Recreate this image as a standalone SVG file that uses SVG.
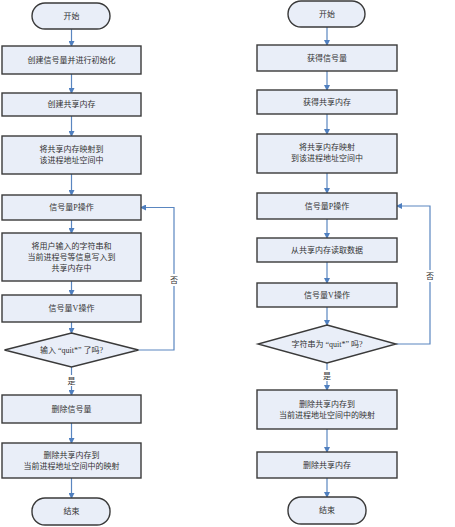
<svg xmlns="http://www.w3.org/2000/svg" width="455" height="527" viewBox="0 0 455 527">
<defs>
<marker id="ah" markerWidth="6" markerHeight="6" refX="5" refY="3" orient="auto" markerUnits="userSpaceOnUse">
<path d="M0,0 L6,3 L0,6 Z" fill="#4f7fbf"/>
</marker>
<style>
.n{fill:#e9eef8;stroke:#3a3a3a;stroke-width:1.4}
.t{font-family:"Liberation Serif","Noto Sans CJK SC",serif;font-size:8px;fill:#333;text-anchor:middle;dominant-baseline:central}
.c{fill:none;stroke:#5a86c0;stroke-width:1.2}
.a{marker-end:url(#ah)}
.lb{fill:#fff}
</style>
</defs>
<rect width="455" height="527" fill="#fff"/>
<g id="connectors">
<path class="c a" d="M71.5,29 V46"/>
<path class="c a" d="M71.5,74 V93"/>
<path class="c a" d="M71.5,116 V136"/>
<path class="c a" d="M71.5,174 V195"/>
<path class="c a" d="M71.5,220 V233"/>
<path class="c a" d="M71.5,281 V295"/>
<path class="c a" d="M71.5,322 V333"/>
<path class="c a" d="M71.5,367 V395"/>
<path class="c a" d="M71.5,423 V443"/>
<path class="c a" d="M71.5,478 V498"/>
<path class="c a" d="M138.5,350 H174 V207.5 H141"/>
<path class="c a" d="M327,27 V45"/>
<path class="c a" d="M327,71 V90"/>
<path class="c a" d="M327,114 V134"/>
<path class="c a" d="M327,173 V193"/>
<path class="c a" d="M327,219 V238"/>
<path class="c a" d="M327,262 V283"/>
<path class="c a" d="M327,307 V325"/>
<path class="c a" d="M327,363 V390"/>
<path class="c a" d="M327,429 V452"/>
<path class="c a" d="M327,478 V497"/>
<path class="c a" d="M396,344 H430 V206 H397"/>
<rect class="lb" x="66" y="375" width="11" height="11"/>
<text class="t" x="71.5" y="381">是</text>
<rect class="lb" x="168.5" y="274" width="11" height="12"/>
<text class="t" x="174" y="280">否</text>
<rect class="lb" x="321.5" y="370" width="11" height="11"/>
<text class="t" x="327" y="376">是</text>
<rect class="lb" x="424.5" y="270" width="11" height="12"/>
<text class="t" x="430" y="276">否</text>
</g>
<g id="L_start"><rect class="n" x="32" y="3" width="78" height="26" rx="13"/><text class="t" x="71.5" y="16">开始</text></g>
<g id="L_init"><rect class="n" x="2" y="46" width="139" height="28"/><text class="t" x="71.5" y="60">创建信号量并进行初始化</text></g>
<g id="L_shm"><rect class="n" x="2" y="93" width="139" height="23"/><text class="t" x="71.5" y="104.5">创建共享内存</text></g>
<g id="L_map"><rect class="n" x="2" y="136" width="139" height="38"/><text class="t" x="71.5" y="149.5">将共享内存映射到</text><text class="t" x="71.5" y="160.5">该进程地址空间中</text></g>
<g id="L_p"><rect class="n" x="2" y="195" width="139" height="25"/><text class="t" x="71.5" y="207.5">信号量P操作</text></g>
<g id="L_write"><rect class="n" x="2" y="233" width="139" height="48"/><text class="t" x="71.5" y="246">将用户输入的字符串和</text><text class="t" x="71.5" y="257">当前进程号等信息写入到</text><text class="t" x="71.5" y="268">共享内存中</text></g>
<g id="L_v"><rect class="n" x="2" y="295" width="139" height="27"/><text class="t" x="71.5" y="308.5">信号量V操作</text></g>
<g id="L_dec"><path class="n" d="M71.5,333 L138.5,350 L71.5,367 L4.5,350 Z"/><text class="t" x="71.5" y="350">输入 “quit*” 了吗?</text></g>
<g id="L_delsem"><rect class="n" x="2" y="395" width="139" height="28"/><text class="t" x="71.5" y="409">删除信号量</text></g>
<g id="L_unmap"><rect class="n" x="2" y="443" width="139" height="35"/><text class="t" x="71.5" y="455">删除共享内存到</text><text class="t" x="71.5" y="466">当前进程地址空间中的映射</text></g>
<g id="L_end"><rect class="n" x="32" y="498" width="78" height="27" rx="13"/><text class="t" x="71.5" y="511.5">结束</text></g>
<g id="R_start"><rect class="n" x="288" y="1" width="77" height="26" rx="13"/><text class="t" x="327" y="14">开始</text></g>
<g id="R_sem"><rect class="n" x="257" y="45" width="140" height="26"/><text class="t" x="327" y="58">获得信号量</text></g>
<g id="R_shm"><rect class="n" x="257" y="90" width="140" height="24"/><text class="t" x="327" y="102">获得共享内存</text></g>
<g id="R_map"><rect class="n" x="257" y="134" width="140" height="39"/><text class="t" x="327" y="147.5">将共享内存映射</text><text class="t" x="327" y="158.5">到该进程地址空间中</text></g>
<g id="R_p"><rect class="n" x="257" y="193" width="140" height="26"/><text class="t" x="327" y="206">信号量P操作</text></g>
<g id="R_read"><rect class="n" x="257" y="238" width="140" height="24"/><text class="t" x="327" y="250">从共享内存读取数据</text></g>
<g id="R_v"><rect class="n" x="257" y="283" width="140" height="24"/><text class="t" x="327" y="295">信号量V操作</text></g>
<g id="R_dec"><path class="n" d="M327,325 L396,344 L327,363 L258,344 Z"/><text class="t" x="327" y="344">字符串为 “quit*” 吗?</text></g>
<g id="R_unmap"><rect class="n" x="257" y="390" width="140" height="39"/><text class="t" x="327" y="404">删除共享内存到</text><text class="t" x="327" y="415">当前进程地址空间中的映射</text></g>
<g id="R_delshm"><rect class="n" x="257" y="452" width="140" height="26"/><text class="t" x="327" y="465">删除共享内存</text></g>
<g id="R_end"><rect class="n" x="288" y="497" width="78" height="27" rx="13"/><text class="t" x="327" y="510.5">结束</text></g>
</svg>
